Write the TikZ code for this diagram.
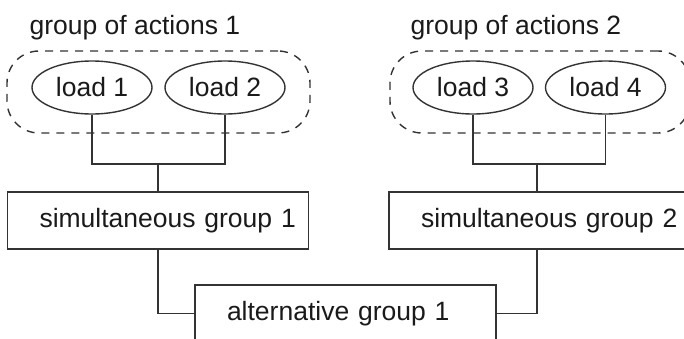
\documentclass[tikz,border=0pt]{standalone}
\usepackage{fontspec}
\setmainfont{Liberation Sans}
\usepackage{xcolor}
\usepackage{tikz}
\usetikzlibrary{shapes.geometric}

\definecolor{linegray}{HTML}{333333}
\definecolor{textgray}{HTML}{1A1A1A}

\begin{document}
\begin{tikzpicture}[
  x=1pt, y=-1pt,
  every node/.style={font=\fontsize{26.5}{30}\selectfont, text=textgray},
  load/.style={ellipse, draw=linegray, line width=1.4pt, inner sep=0pt,
               minimum width=120pt, minimum height=53pt},
  group/.style={draw=linegray, line width=1.4pt, dash pattern=on 8pt off 7pt,
                rounded corners=32pt, minimum height=82pt},
  box/.style={rectangle, draw=linegray, line width=1.4pt, minimum height=57pt,
              inner xsep=32pt, text width=237pt, align=left},
  wire/.style={draw=linegray, line width=1.4pt}
]
\useasboundingbox (0,0) rectangle (684,338);
\clip (0,0) rectangle (684,338);

% titles
\node[anchor=base west] (ttl1) at (26,34)  {group of actions 1};
\node[anchor=base west] (ttl2) at (407,34) {group of actions 2};

% dashed groups
\node[group, minimum width=303pt] (grp1) at (158.5,92) {};
\node[group, minimum width=300pt] (grp2) at (540,92)   {};

% loads
\node[load] (ld1) at (92,87.5)    {load 1};
\node[load] (ld2) at (225,87.5)   {load 2};
\node[load] (ld3) at (473,87.5)   {load 3};
\node[load] (ld4) at (605.5,87.5) {load 4};

% group boxes
\node[box]                  (sim1) at (158,220.5)   {simultaneous~group~1};
\node[box, text width=232pt] (sim2) at (537,220.5)  {simultaneous~group~2};
\node[box]                  (alt)  at (345.5,313.5) {alternative~group~1};

% junctions
\coordinate (j1) at (sim1.north |- 0,164);
\coordinate (j2) at (sim2.north |- 0,164);

\draw[wire] (ld1.south) |- (j1) -| (ld2.south);
\draw[wire] (j1) -- (sim1.north);
\draw[wire] (ld3.south) |- (j2) -| (ld4.south);
\draw[wire] (j2) -- (sim2.north);
\draw[wire] (sim1.south) |- (alt.west);
\draw[wire] (sim2.south) |- (alt.east);
\end{tikzpicture}
\end{document}
